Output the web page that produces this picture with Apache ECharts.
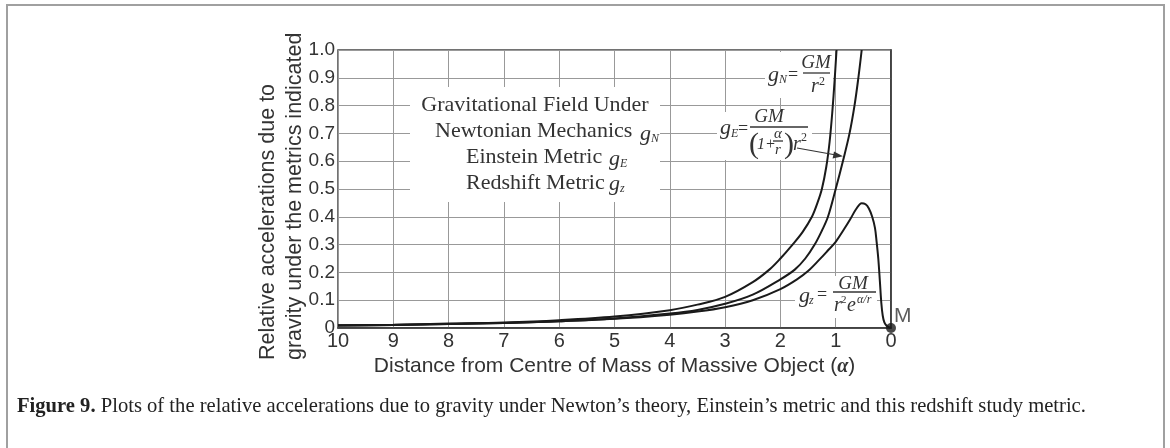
<!DOCTYPE html>
<html>
<head>
<meta charset="utf-8">
<script src="https://cdn.jsdelivr.net/npm/echarts@6/dist/echarts.min.js"></script>
<style>
  html, body { margin: 0; padding: 0; background: #fff; }
  #chart { width: 1170px; height: 448px; }
</style>
</head>
<body>
<div id="chart"></div>
<script>
// values (distance in units of alpha, relative acceleration)
var distN = [10, 9, 8, 7, 6, 5, 4, 3.5, 3, 2.5, 2.2, 2.0, 1.78, 1.6, 1.43, 1.33, 1.25, 1.17, 1.11, 1.06, 1.02, 0.985];
var gN    = [0.010, 0.012, 0.016, 0.020, 0.028, 0.041, 0.064, 0.084, 0.112, 0.165, 0.21, 0.25, 0.30, 0.345, 0.40, 0.45, 0.50, 0.58, 0.67, 0.78, 0.89, 1.0];

var distE = [10, 9, 8, 7, 6, 5, 4, 3.5, 3, 2.5, 2.0, 1.74, 1.55, 1.38, 1.25, 1.14, 1.0, 0.87, 0.75, 0.66, 0.59, 0.53];
var gE    = [0.009, 0.011, 0.014, 0.018, 0.024, 0.034, 0.052, 0.065, 0.087, 0.12, 0.175, 0.21, 0.25, 0.30, 0.35, 0.40, 0.50, 0.60, 0.70, 0.80, 0.90, 1.0];

var distZ = [10, 9, 8, 7, 6, 5, 4, 3.5, 3, 2.5, 2.0, 1.7, 1.5, 1.3, 1.15, 1.0, 0.85, 0.74, 0.63, 0.53, 0.46, 0.4, 0.34, 0.29, 0.26, 0.23, 0.2, 0.175, 0.15, 0.12, 0.08, 0.04, 0];
var gZ    = [0.009, 0.011, 0.014, 0.018, 0.024, 0.033, 0.048, 0.059, 0.075, 0.1, 0.14, 0.175, 0.205, 0.245, 0.277, 0.31, 0.355, 0.39, 0.428, 0.449, 0.445, 0.43, 0.40, 0.36, 0.31, 0.25, 0.165, 0.09, 0.045, 0.02, 0.008, 0.003, 0];

var massPoint = [[0, 0]];

var xTitle = 'Distance from Centre of Mass of Massive Object (';
var yTitle = 'Relative accelerations due to\ngravity under the metrics indicated';
var boxLines = ['Gravitational Field Under', 'Newtonian Mechanics', 'Einstein Metric', 'Redshift Metric'];
var caption = 'Plots of the relative accelerations due to gravity under Newton\u2019s theory, Einstein\u2019s metric and this redshift study metric.';

function pairs(xs, ys) {
    return xs.map(function (x, i) { return [x, ys[i]]; });
}

var SERIF = '"Liberation Serif", "DejaVu Serif", serif';
var SANS = '"Liberation Sans", Arial, sans-serif';
var INK = '#333';

function txt(x, y, s, size, opts) {
    opts = opts || {};
    var st = {
        text: s,
        x: 0, y: 0,
        fill: opts.color || INK,
        fontSize: size,
        fontFamily: opts.family || SERIF,
        fontStyle: opts.italic ? 'italic' : 'normal',
        fontWeight: opts.bold ? 'bold' : 'normal',
        align: opts.align || 'left',
        textAlign: opts.align || 'left',
        verticalAlign: 'middle',
        textVerticalAlign: 'middle'
    };
    if (opts.rich) st.rich = opts.rich;
    return { type: 'text', x: x, y: y, z: 10, silent: true, style: st };
}
function bar(x1, x2, y) {
    return { type: 'line', z: 10, silent: true, shape: { x1: x1, y1: y, x2: x2, y2: y }, style: { stroke: INK, lineWidth: 1.3 } };
}
function box(x, y, w, h) {
    return { type: 'rect', z: 1, silent: true, shape: { x: x, y: y, width: w, height: h }, style: { fill: '#fff' } };
}

var graphics = [
    // figure frame
    { type: 'rect', z: 0, silent: true, shape: { x: 7, y: 5, width: 1157, height: 520 }, style: { fill: 'none', stroke: '#a0a0a0', lineWidth: 2 } },

    // legend-like text block
    box(410, 87, 250, 115),
    txt(535, 105, boxLines[0], 22, { align: 'center' }),
    txt(435, 131, boxLines[1], 22),
    txt(640, 134, 'g', 22, { italic: true }),
    txt(651, 139, 'N', 12, { italic: true }),
    txt(466, 157, boxLines[2], 22),
    txt(609, 159, 'g', 22, { italic: true }),
    txt(620, 164, 'E', 12, { italic: true }),
    txt(466, 183, boxLines[3], 22),
    txt(609, 184, 'g', 22, { italic: true }),
    txt(620, 189, 'z', 12, { italic: true }),

    // g_N = GM / r^2
    box(765, 52, 68, 46),
    txt(768, 75, 'g', 22, { italic: true }),
    txt(779, 80, 'N', 12, { italic: true }),
    txt(788, 75, '=', 18),
    txt(816, 63, 'GM', 19, { italic: true, align: 'center' }),
    bar(803, 830, 73),
    txt(811, 87, 'r', 20, { italic: true }),
    txt(819, 82, '2', 12),

    // g_E = GM / ((1 + a/r) r^2)
    box(717, 112, 95, 48),
    txt(720, 128, 'g', 22, { italic: true }),
    txt(731, 134, 'E', 12, { italic: true }),
    txt(738, 129, '=', 18),
    txt(769, 117, 'GM', 19, { italic: true, align: 'center' }),
    bar(750, 808, 127),
    txt(749, 145, '(', 30),
    txt(757, 145, '1+', 16, { italic: true }),
    txt(778, 134, '\u03b1', 15, { italic: true, align: 'center' }),
    bar(773, 783, 141),
    txt(778, 150, 'r', 15, { italic: true, align: 'center' }),
    txt(784, 145, ')', 30),
    txt(793, 145, 'r', 20, { italic: true }),
    txt(801, 138, '2', 12),
    { type: 'line', z: 10, silent: true, shape: { x1: 797, y1: 148, x2: 836, y2: 155 }, style: { stroke: INK, lineWidth: 1.2 } },
    { type: 'polygon', z: 10, silent: true, shape: { points: [[843, 156.3], [834, 151.5], [832.6, 158.5]] }, style: { fill: INK } },

    // g_z = GM / (r^2 e^(a/r))
    box(795, 276, 82, 42),
    txt(799, 296, 'g', 22, { italic: true }),
    txt(809, 301, 'z', 12, { italic: true }),
    txt(817, 295, '=', 18),
    txt(853, 284, 'GM', 19, { italic: true, align: 'center' }),
    bar(833, 876, 292),
    txt(834, 306, 'r', 20, { italic: true }),
    txt(841, 300, '2', 11),
    txt(847, 306, 'e', 20, { italic: true }),
    txt(857, 300, '\u03b1/r', 12, { italic: true }),

    // y axis title, rotated
    {
        type: 'text', x: 255, y: 360, rotation: Math.PI / 2, z: 10, silent: true,
        style: {
            text: yTitle, x: 0, y: 0, fill: INK, fontSize: 21.5, fontFamily: SANS, lineHeight: 27,
            align: 'left', textAlign: 'left', verticalAlign: 'top', textVerticalAlign: 'top'
        }
    },

    // caption
    txt(17, 407, '{b|Figure 9.} ' + caption, 20.6, {
        color: '#222',
        rich: { b: { fontWeight: 'bold', fontSize: 20.6, fontFamily: SERIF, fill: '#222' } }
    })
];

var chart = echarts.init(document.getElementById('chart'), null, { renderer: 'canvas' });

var lineStyle = { color: '#1a1a1a', width: 2 };

var option = {
    backgroundColor: '#fff',
    animation: false,
    grid: { left: 338, right: 279, top: 50, bottom: 120, show: true, borderColor: '#444', borderWidth: 1.5, backgroundColor: 'transparent' },
    xAxis: {
        type: 'value', min: 0, max: 10, interval: 1, inverse: true,
        axisLine: { show: true, lineStyle: { color: '#333', width: 1.5 } },
        axisTick: { show: false },
        splitLine: { show: true, lineStyle: { color: '#999', width: 1 } },
        axisLabel: { color: INK, fontSize: 20, fontFamily: SANS, margin: 3 },
        name: xTitle + '{a|\u03b1})',
        nameLocation: 'middle', nameGap: 22,
        nameTextStyle: {
            color: INK, fontSize: 21, fontFamily: SANS,
            rich: { a: { fontSize: 20, fontFamily: SERIF, fontStyle: 'italic', fontWeight: 'bold', color: INK } }
        }
    },
    yAxis: {
        type: 'value', min: 0, max: 1, interval: 0.1,
        axisLine: { show: true, lineStyle: { color: '#333', width: 1.5 } },
        axisTick: { show: false },
        splitLine: { show: true, lineStyle: { color: '#999', width: 1 } },
        axisLabel: {
            color: INK, fontSize: 19, fontFamily: SANS, margin: 3,
            formatter: function (v) { return v === 0 ? '0' : v.toFixed(1); }
        }
    },
    graphic: graphics,
    series: [
        { name: 'gN', type: 'line', data: pairs(distN, gN), smooth: 0.35, showSymbol: false, lineStyle: lineStyle, z: 3 },
        { name: 'gE', type: 'line', data: pairs(distE, gE), smooth: 0.35, showSymbol: false, lineStyle: lineStyle, z: 3 },
        { name: 'gz', type: 'line', data: pairs(distZ, gZ), smooth: 0.35, showSymbol: false, lineStyle: lineStyle, z: 3 },
        {
            name: 'M', type: 'scatter', data: massPoint, symbolSize: 10, z: 4,
            itemStyle: { color: '#1a1a1a' },
            label: { show: true, formatter: 'M', position: [8, -17], color: INK, fontSize: 21, fontFamily: SANS }
        }
    ]
};

chart.setOption(option);
</script>
</body>
</html>
